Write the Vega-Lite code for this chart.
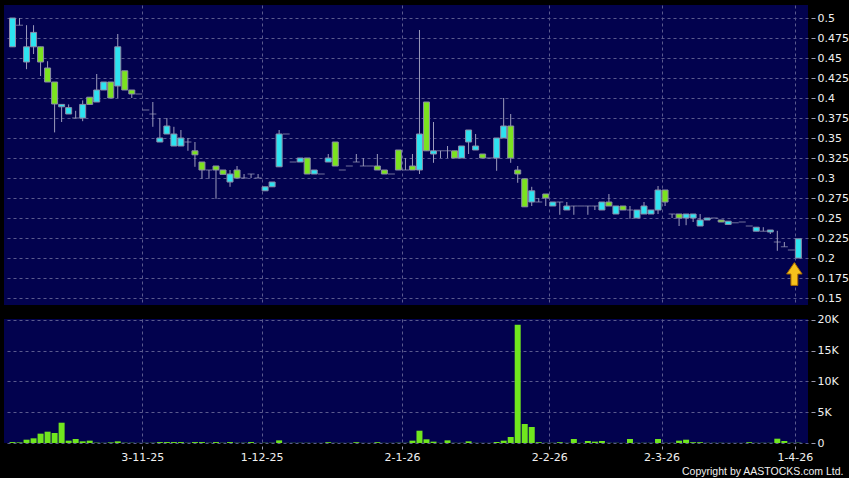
{
  "$schema": "https://vega.github.io/schema/vega-lite/v6.json",
  "background": "#000000",
  "padding": {"left": 4, "top": 5, "right": 0, "bottom": 0},
  "config": {
    "view": {"fill": "#02024e", "stroke": null},
    "axis": {"labelFont": "DejaVu Sans", "labelFontSize": 11, "labelColor": "#f0f0f0", "tickColor": "#9a9ab0", "domain": false, "gridColor": "#5a5a8e", "gridDash": [3, 3], "gridWidth": 1, "title": null, "labelOverlap": false, "labelBound": false}
  },
  "title": {"text": "Copyright by AASTOCKS.com Ltd.", "orient": "bottom", "anchor": "end", "color": "#f0f0f0", "font": "Liberation Sans", "fontSize": 10.5, "fontWeight": "normal", "offset": 5, "dx": -5},
  "spacing": 8,
  "datasets": {
    "candles": [
      {"i":0,"o":0.464,"h":0.5,"l":0.464,"c":0.5,"v":150},
      {"i":1,"o":0.491,"h":0.5,"l":0.491,"c":0.491,"v":100},
      {"i":2,"o":0.445,"h":0.491,"l":0.436,"c":0.464,"v":540},
      {"i":3,"o":0.464,"h":0.491,"l":0.455,"c":0.482,"v":760},
      {"i":4,"o":0.464,"h":0.464,"l":0.4275,"c":0.445,"v":1520},
      {"i":5,"o":0.4375,"h":0.446,"l":0.42,"c":0.42,"v":1840},
      {"i":6,"o":0.42,"h":0.42,"l":0.357,"c":0.3925,"v":1630},
      {"i":7,"o":0.389,"h":0.392,"l":0.37,"c":0.392,"v":3300},
      {"i":8,"o":0.38,"h":0.392,"l":0.38,"c":0.388,"v":380},
      {"i":9,"o":0.375,"h":0.384,"l":0.375,"c":0.375,"v":650},
      {"i":10,"o":0.375,"h":0.397,"l":0.371,"c":0.392,"v":270},
      {"i":11,"o":0.401,"h":0.401,"l":0.392,"c":0.392,"v":380},
      {"i":12,"o":0.395,"h":0.43,"l":0.395,"c":0.41,"v":60},
      {"i":13,"o":0.41,"h":0.42,"l":0.41,"c":0.42,"v":30},
      {"i":14,"o":0.42,"h":0.42,"l":0.4,"c":0.4,"v":100},
      {"i":15,"o":0.415,"h":0.48,"l":0.4,"c":0.464,"v":270},
      {"i":16,"o":0.434,"h":0.434,"l":0.41,"c":0.41,"v":50},
      {"i":17,"o":0.41,"h":0.41,"l":0.4,"c":0.405,"v":40},
      {"i":18,"o":0.405,"h":0.405,"l":0.405,"c":0.405,"v":20},
      {"i":19,"o":0.385,"h":0.385,"l":0.385,"c":0.385,"v":30},
      {"i":20,"o":0.38,"h":0.395,"l":0.364,"c":0.38,"v":40},
      {"i":21,"o":0.345,"h":0.375,"l":0.345,"c":0.35,"v":150},
      {"i":22,"o":0.355,"h":0.375,"l":0.355,"c":0.365,"v":150},
      {"i":23,"o":0.34,"h":0.364,"l":0.34,"c":0.355,"v":150},
      {"i":24,"o":0.34,"h":0.36,"l":0.34,"c":0.35,"v":150},
      {"i":25,"o":0.345,"h":0.35,"l":0.334,"c":0.345,"v":40},
      {"i":26,"o":0.334,"h":0.345,"l":0.314,"c":0.329,"v":150},
      {"i":27,"o":0.32,"h":0.32,"l":0.299,"c":0.31,"v":150},
      {"i":28,"o":0.31,"h":0.31,"l":0.299,"c":0.31,"v":40},
      {"i":29,"o":0.315,"h":0.315,"l":0.274,"c":0.31,"v":150},
      {"i":30,"o":0.31,"h":0.31,"l":0.3046,"c":0.3046,"v":40},
      {"i":31,"o":0.295,"h":0.31,"l":0.289,"c":0.305,"v":150},
      {"i":32,"o":0.31,"h":0.315,"l":0.3,"c":0.3,"v":40},
      {"i":33,"o":0.3,"h":0.305,"l":0.3,"c":0.3,"v":40},
      {"i":34,"o":0.305,"h":0.305,"l":0.3,"c":0.305,"v":150},
      {"i":35,"o":0.3,"h":0.305,"l":0.3,"c":0.3,"v":20},
      {"i":36,"o":0.284,"h":0.289,"l":0.284,"c":0.289,"v":40},
      {"i":37,"o":0.289,"h":0.295,"l":0.289,"c":0.295,"v":40},
      {"i":38,"o":0.314,"h":0.36,"l":0.314,"c":0.355,"v":430},
      {"i":39,"o":0.355,"h":0.355,"l":0.355,"c":0.355,"v":20},
      {"i":40,"o":0.32,"h":0.32,"l":0.32,"c":0.32,"v":30},
      {"i":41,"o":0.32,"h":0.325,"l":0.32,"c":0.325,"v":30},
      {"i":42,"o":0.325,"h":0.325,"l":0.305,"c":0.305,"v":30},
      {"i":43,"o":0.305,"h":0.31,"l":0.305,"c":0.31,"v":20},
      {"i":44,"o":0.305,"h":0.305,"l":0.305,"c":0.305,"v":20},
      {"i":45,"o":0.32,"h":0.33,"l":0.32,"c":0.325,"v":130},
      {"i":46,"o":0.345,"h":0.345,"l":0.315,"c":0.315,"v":30},
      {"i":47,"o":0.31,"h":0.31,"l":0.31,"c":0.31,"v":20},
      {"i":48,"o":0.315,"h":0.315,"l":0.315,"c":0.315,"v":20},
      {"i":49,"o":0.32,"h":0.33,"l":0.32,"c":0.32,"v":130},
      {"i":50,"o":0.315,"h":0.325,"l":0.315,"c":0.315,"v":20},
      {"i":51,"o":0.315,"h":0.315,"l":0.315,"c":0.315,"v":20},
      {"i":52,"o":0.315,"h":0.33,"l":0.31,"c":0.31,"v":130},
      {"i":53,"o":0.31,"h":0.31,"l":0.305,"c":0.305,"v":20},
      {"i":54,"o":0.305,"h":0.305,"l":0.305,"c":0.305,"v":20},
      {"i":55,"o":0.335,"h":0.335,"l":0.31,"c":0.31,"v":40},
      {"i":56,"o":0.31,"h":0.325,"l":0.31,"c":0.31,"v":30},
      {"i":57,"o":0.315,"h":0.33,"l":0.31,"c":0.31,"v":380},
      {"i":58,"o":0.31,"h":0.485,"l":0.305,"c":0.355,"v":2000},
      {"i":59,"o":0.395,"h":0.395,"l":0.334,"c":0.334,"v":600},
      {"i":60,"o":0.33,"h":0.37,"l":0.319,"c":0.334,"v":220},
      {"i":61,"o":0.334,"h":0.334,"l":0.325,"c":0.334,"v":20},
      {"i":62,"o":0.334,"h":0.34,"l":0.325,"c":0.334,"v":430},
      {"i":63,"o":0.334,"h":0.334,"l":0.325,"c":0.325,"v":30},
      {"i":64,"o":0.325,"h":0.34,"l":0.325,"c":0.34,"v":30},
      {"i":65,"o":0.345,"h":0.36,"l":0.33,"c":0.36,"v":270},
      {"i":66,"o":0.335,"h":0.355,"l":0.335,"c":0.34,"v":30},
      {"i":67,"o":0.33,"h":0.33,"l":0.325,"c":0.325,"v":20},
      {"i":68,"o":0.325,"h":0.325,"l":0.325,"c":0.325,"v":20},
      {"i":69,"o":0.325,"h":0.35,"l":0.309,"c":0.35,"v":160},
      {"i":70,"o":0.35,"h":0.4,"l":0.35,"c":0.365,"v":380},
      {"i":71,"o":0.365,"h":0.38,"l":0.319,"c":0.325,"v":980},
      {"i":72,"o":0.31,"h":0.315,"l":0.294,"c":0.305,"v":19240},
      {"i":73,"o":0.299,"h":0.299,"l":0.264,"c":0.264,"v":3090},
      {"i":74,"o":0.27,"h":0.289,"l":0.265,"c":0.284,"v":2600},
      {"i":75,"o":0.27,"h":0.275,"l":0.27,"c":0.27,"v":130},
      {"i":76,"o":0.28,"h":0.28,"l":0.265,"c":0.275,"v":30},
      {"i":77,"o":0.265,"h":0.27,"l":0.265,"c":0.27,"v":30},
      {"i":78,"o":0.27,"h":0.27,"l":0.254,"c":0.27,"v":130},
      {"i":79,"o":0.26,"h":0.27,"l":0.26,"c":0.265,"v":30},
      {"i":80,"o":0.265,"h":0.265,"l":0.254,"c":0.265,"v":650},
      {"i":81,"o":0.265,"h":0.265,"l":0.265,"c":0.265,"v":20},
      {"i":82,"o":0.265,"h":0.265,"l":0.254,"c":0.265,"v":330},
      {"i":83,"o":0.265,"h":0.265,"l":0.26,"c":0.265,"v":220},
      {"i":84,"o":0.26,"h":0.27,"l":0.26,"c":0.27,"v":330},
      {"i":85,"o":0.27,"h":0.28,"l":0.265,"c":0.265,"v":30},
      {"i":86,"o":0.255,"h":0.265,"l":0.255,"c":0.265,"v":30},
      {"i":87,"o":0.265,"h":0.265,"l":0.26,"c":0.26,"v":20},
      {"i":88,"o":0.26,"h":0.265,"l":0.249,"c":0.26,"v":650},
      {"i":89,"o":0.25,"h":0.26,"l":0.25,"c":0.26,"v":30},
      {"i":90,"o":0.255,"h":0.27,"l":0.255,"c":0.265,"v":30},
      {"i":91,"o":0.255,"h":0.26,"l":0.255,"c":0.26,"v":30},
      {"i":92,"o":0.26,"h":0.29,"l":0.255,"c":0.285,"v":650},
      {"i":93,"o":0.285,"h":0.285,"l":0.265,"c":0.27,"v":30},
      {"i":94,"o":0.255,"h":0.255,"l":0.25,"c":0.255,"v":30},
      {"i":95,"o":0.255,"h":0.255,"l":0.24,"c":0.25,"v":380},
      {"i":96,"o":0.25,"h":0.255,"l":0.241,"c":0.255,"v":540},
      {"i":97,"o":0.25,"h":0.255,"l":0.245,"c":0.255,"v":130},
      {"i":98,"o":0.24,"h":0.255,"l":0.24,"c":0.2475,"v":130},
      {"i":99,"o":0.2475,"h":0.25,"l":0.2475,"c":0.25,"v":30},
      {"i":100,"o":0.25,"h":0.25,"l":0.25,"c":0.25,"v":30},
      {"i":101,"o":0.2475,"h":0.2475,"l":0.245,"c":0.245,"v":30},
      {"i":102,"o":0.242,"h":0.246,"l":0.242,"c":0.246,"v":20},
      {"i":103,"o":0.244,"h":0.244,"l":0.244,"c":0.244,"v":20},
      {"i":104,"o":0.245,"h":0.245,"l":0.245,"c":0.245,"v":20},
      {"i":105,"o":0.24,"h":0.24,"l":0.24,"c":0.24,"v":130},
      {"i":106,"o":0.2335,"h":0.2385,"l":0.2335,"c":0.2385,"v":30},
      {"i":107,"o":0.2335,"h":0.2385,"l":0.2335,"c":0.2335,"v":30},
      {"i":108,"o":0.2325,"h":0.235,"l":0.23,"c":0.235,"v":30},
      {"i":109,"o":0.22,"h":0.234,"l":0.209,"c":0.22,"v":700},
      {"i":110,"o":0.214,"h":0.22,"l":0.214,"c":0.214,"v":330},
      {"i":111,"o":0.21,"h":0.21,"l":0.21,"c":0.21,"v":30},
      {"i":112,"o":0.2,"h":0.224,"l":0.2,"c":0.224,"v":50}
    ]
  },
  "vconcat": [
    {
      "width": 804,
      "height": 300,
      "data": {"name": "candles"},
      "encoding": {
        "x": {
          "field": "i", "type": "quantitative",
          "scale": {"domain": [-0.5, 112.66], "nice": false, "zero": false},
          "axis": {"values": [18.5, 35.5, 55.5, 76.5, 92.5, 111.5], "grid": true, "labels": false, "ticks": false, "domain": false, "labelPadding": 0, "offset": 0}
        }
      },
      "layer": [
        {
          "mark": {"type": "rule", "color": "#9c9cbc", "strokeWidth": 1},
          "encoding": {
            "y": {
              "field": "l", "type": "quantitative",
              "scale": {"domain": [0.14125, 0.51625], "nice": false, "zero": false},
              "axis": {"orient": "right", "values": [0.15, 0.175, 0.2, 0.225, 0.25, 0.275, 0.3, 0.325, 0.35, 0.375, 0.4, 0.425, 0.45, 0.475, 0.5], "labelExpr": "format(datum.value, '.4~f')", "labelOverlap": false, "grid": true, "tickSize": 4, "offset": 3, "labelPadding": 2}
            },
            "y2": {"field": "h"}
          }
        },
        {
          "transform": [{"filter": "datum.o == datum.c"}],
          "mark": {"type": "tick", "orient": "horizontal", "size": 7, "thickness": 1, "color": "#a0a0bc"},
          "encoding": {
            "y": {"field": "c", "type": "quantitative",
              "axis": {"orient": "right", "values": [0.15, 0.175, 0.2, 0.225, 0.25, 0.275, 0.3, 0.325, 0.35, 0.375, 0.4, 0.425, 0.45, 0.475, 0.5], "labelExpr": "format(datum.value, '.4~f')", "labelOverlap": false, "grid": true, "tickSize": 4, "offset": 3, "labelPadding": 2}}
          }
        },
        {
          "transform": [{"filter": "datum.o != datum.c"}],
          "mark": {"type": "bar", "size": 6, "stroke": "#8c8ca8", "strokeWidth": 1},
          "encoding": {
            "y": {"field": "o", "type": "quantitative",
              "axis": {"orient": "right", "values": [0.15, 0.175, 0.2, 0.225, 0.25, 0.275, 0.3, 0.325, 0.35, 0.375, 0.4, 0.425, 0.45, 0.475, 0.5], "labelExpr": "format(datum.value, '.4~f')", "labelOverlap": false, "grid": true, "tickSize": 4, "offset": 3, "labelPadding": 2}},
            "y2": {"field": "c"},
            "fill": {"condition": {"test": "datum.c > datum.o", "value": "#2de3f0"}, "value": "#7be31f"}
          }
        },
        {
          "transform": [{"filter": "datum.i == 112"}],
          "mark": {"type": "point", "shape": "M-0.3,1L0.3,1L0.3,0L0.68,0L0,-1L-0.68,0L-0.3,0Z", "size": 520, "filled": true, "fill": "#f6c21c", "stroke": "#a86a00", "strokeWidth": 1, "opacity": 1, "xOffset": -4},
          "encoding": {
            "y": {"datum": 0.18, "type": "quantitative",
              "axis": {"orient": "right", "values": [0.15, 0.175, 0.2, 0.225, 0.25, 0.275, 0.3, 0.325, 0.35, 0.375, 0.4, 0.425, 0.45, 0.475, 0.5], "labelExpr": "format(datum.value, '.4~f')", "labelOverlap": false, "grid": true, "tickSize": 4, "offset": 3, "labelPadding": 2}}
          }
        }
      ]
    },
    {
      "width": 804,
      "height": 124,
      "data": {"name": "candles"},
      "mark": {"type": "bar", "size": 6, "color": "#70e61e"},
      "encoding": {
        "x": {
          "field": "i", "type": "quantitative",
          "scale": {"domain": [-0.5, 112.66], "nice": false, "zero": false},
          "axis": {"values": [18.5, 35.5, 55.5, 76.5, 92.5, 111.5], "grid": true, "ticks": true, "tickSize": 3, "offset": 3, "labelPadding": 2, "labelOverlap": false,
            "labelExpr": "datum.value == 18.5 ? '3-11-25' : datum.value == 35.5 ? '1-12-25' : datum.value == 55.5 ? '2-1-26' : datum.value == 76.5 ? '2-2-26' : datum.value == 92.5 ? '2-3-26' : '1-4-26'"}
        },
        "y": {
          "field": "v", "type": "quantitative",
          "scale": {"domain": [0, 20160], "nice": false},
          "axis": {"orient": "right", "values": [0, 5000, 10000, 15000, 20000], "grid": true, "tickSize": 4, "offset": 3, "labelPadding": 2, "labelOverlap": false,
            "labelExpr": "datum.value == 0 ? '0' : (datum.value / 1000) + 'K'"}
        }
      }
    }
  ]
}
